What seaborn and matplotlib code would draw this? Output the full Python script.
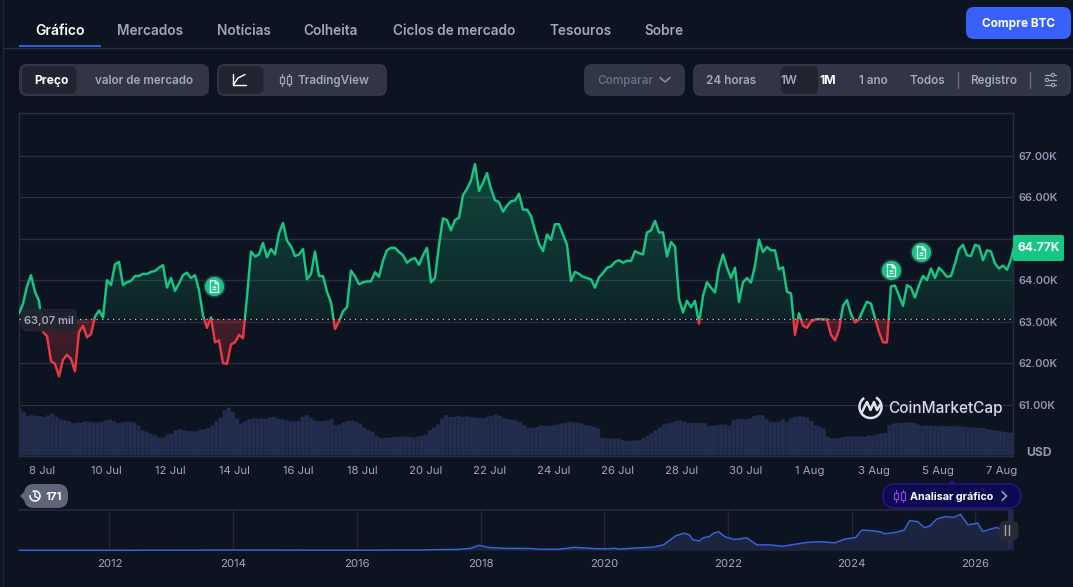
import numpy as np
import pandas as pd
import seaborn as sns
from matplotlib import pyplot as plt
from matplotlib.patches import FancyBboxPatch, Rectangle, Circle, Polygon, Arc
from matplotlib.path import Path

# price in thousands of USD, one reading every 3 hours
price_k = [
    63.20, 63.43, 63.85, 64.12, 63.72, 63.50, 62.75, 62.65, 62.05, 61.98, 61.68, 62.08, 62.20, 62.10, 61.80,
    62.75, 62.90, 62.62, 62.70, 63.12, 63.27, 63.10, 64.00, 63.88, 64.38, 64.44, 63.88, 63.95, 63.98, 64.10,
    64.10, 64.15, 64.15, 64.20, 64.22, 64.30, 64.36, 63.82, 64.05, 63.74, 63.92, 64.12, 64.18, 64.05, 64.12,
    63.76, 63.15, 62.85, 63.10, 62.50, 62.55, 62.00, 61.98, 62.45, 62.50, 62.68, 62.60, 63.60, 64.69,
    64.57, 64.62, 64.90, 64.55, 64.75, 64.62, 65.13, 65.38, 64.95, 64.82, 64.58, 64.62, 64.75, 64.02, 64.15,
    64.69, 64.10, 64.10, 63.72, 63.46, 62.82, 63.00, 63.25, 63.35, 64.23, 64.09, 63.90, 63.95, 63.97, 63.97,
    64.19, 64.08, 64.47, 64.72, 64.78, 64.78, 64.68, 64.60, 64.42, 64.50, 64.53, 64.37, 64.60, 64.78, 63.95,
    64.05, 64.85, 65.49, 65.45, 65.20, 65.45, 65.50, 66.05, 66.20, 66.40, 66.80, 66.15,
    66.35, 66.58, 66.20, 65.93, 65.88, 65.65, 65.80, 65.90, 65.92, 66.08, 65.70, 65.70, 65.55, 65.20, 64.88,
    64.70, 65.10, 64.97, 65.35, 65.35, 65.10, 64.85, 63.98, 64.20, 64.15, 64.08, 64.05, 64.02, 63.82, 64.07,
    64.17, 64.30, 64.33, 64.44, 64.48, 64.42, 64.47, 64.46, 64.70, 64.65, 64.62, 65.15, 65.20, 65.43, 65.15,
    65.15, 64.57, 64.92, 64.81, 63.55, 63.22, 63.50, 63.35, 63.50, 62.95, 63.62, 63.95,
    63.82, 63.70, 64.30, 64.62, 64.30, 64.05, 64.30, 63.47, 63.95, 64.05, 63.94, 64.35, 64.98, 64.68, 64.80,
    64.72, 64.72, 64.26, 64.31, 63.72, 63.68, 62.68, 63.20, 62.90, 62.85, 63.00, 63.05, 63.06, 63.05, 63.05,
    62.68, 62.55, 62.80, 63.38, 63.52, 63.18, 62.98, 63.05, 63.28, 63.48, 63.43, 63.09, 62.75, 62.50, 62.50,
    63.85, 63.87, 63.63, 63.38, 63.88, 63.82, 63.58, 63.88, 64.10, 64.00, 64.28, 64.05, 64.30, 64.20, 64.08,
    64.10, 64.40, 64.75, 64.85, 64.60, 64.58, 64.85, 64.82, 64.48, 64.72, 64.69, 64.40, 64.28, 64.35, 64.25,
    64.50, 64.90,
]

# volume (relative height), one bar every ~3 hours
volume = [
    47, 43.7, 39.7, 40.3, 39.7, 39.3, 38.7, 40.3, 41.7, 38.7, 36.3, 35.3, 34.3, 32.3, 33, 32.7, 34.3, 33.7, 33, 33,
    33.7, 35, 35.7, 34.3, 32.3, 33, 33.7, 33.7, 33, 29.7, 25.3, 23.7, 21.7, 20.3, 18, 18, 21, 21.7, 25.3, 26.3,
    25.3, 24.3, 24.3, 24.3, 26, 26.3, 27.7, 30.3, 34.3, 37.7, 45.3, 47.7, 43.7, 37, 32, 34.3, 36.3, 37, 37, 37,
    37, 38.3, 38.7, 37, 36.3, 35.3, 34.3, 34.3, 34.3, 38.7, 40.3, 37.7, 35, 34.3, 34.3, 35, 36.3, 30.3, 31.3, 33,
    34.7, 35, 33.7, 32, 27.7, 25.3, 23.7, 19.7, 17.7, 17.7, 18, 18.3, 18.7, 18.7, 19, 18.7, 18, 19, 19.7, 21,
    25.3, 28, 31.3, 37, 40.3, 38.7, 38.7, 39.7, 38.7, 39.3, 38.3, 38, 37.3, 37.3, 38.7, 39.7, 41, 39.7, 37.7, 36.3,
    35.7, 35.3, 33.7, 30.3, 27.7, 27.7, 28.5,
    30.3, 29.7, 29.7, 30.3, 31, 32, 32.3, 33.7, 33, 32.7, 32, 30.3, 29.7, 28.7, 27, 17.7, 17, 17, 16.7, 17,
    15.3, 14.7, 14.7, 15, 15.3, 17.7, 19.7, 22, 25.3, 28, 31, 32, 33, 34.7, 35, 34, 32.3, 32.7, 32.3, 32.7,
    32.3, 29.7, 29.7, 30.3, 31, 31, 29.7, 35.3, 36.3, 36.3, 36.3, 37, 39.3, 40.3, 40.3, 36.3, 33.7, 33.3, 33.7, 36.3,
    33.7, 37, 38.7, 39.3, 39, 38, 34.3, 30.3, 28.7, 27, 18.7, 17, 17, 17.7, 18.7, 19, 19, 19, 19.3, 18.7,
    20, 19.7, 21, 22, 22.7, 30.3, 32, 32.3, 32.7, 33.3, 33, 32.7, 31, 29.7, 30, 29.7, 29.7, 29.3, 29.7, 29.3,
    29.3, 29.7, 29.3, 28.7, 28.3, 28, 28, 27.7, 27.7, 26.3, 25.7, 25, 24.3, 23.7, 23, 22.7,
]

day_ticks = [0, 2, 4, 6, 8, 10, 12, 14, 16, 18, 20, 22, 24, 26, 28, 30]
day_labels = ['8 Jul', '10 Jul', '12 Jul', '14 Jul', '16 Jul', '18 Jul', '20 Jul', '22 Jul', '24 Jul', '26 Jul',
              '28 Jul', '30 Jul', '1 Aug', '3 Aug', '5 Aug', '7 Aug']
price_ticks = [61, 62, 63, 64, 65, 66, 67]
base_price = 63.07

note_days = [5.36, 26.53, 27.47]
note_prices = [63.86, 64.24, 64.68]

# history strip, whole life of the coin
hist_years = [2010.54, 2012, 2014, 2016, 2017, 2017.4, 2017.63, 2017.85, 2017.97, 2018.15, 2018.38, 2018.8, 2018.96,
              2019.24, 2019.4, 2019.51, 2019.68, 2019.84, 2020, 2020.17, 2020.25, 2020.5, 2020.77, 2020.85, 2020.96,
              2021.07, 2021.16, 2021.29, 2021.38, 2021.43, 2021.54, 2021.6, 2021.7, 2021.77, 2021.85, 2021.95,
              2022.09, 2022.2, 2022.3, 2022.47, 2022.69, 2022.88, 2023.05, 2023.29, 2023.51, 2023.73, 2023.9,
              2024.06, 2024.17, 2024.36, 2024.45, 2024.55, 2024.72, 2024.85, 2024.94, 2025.07, 2025.18, 2025.27,
              2025.38, 2025.52, 2025.65, 2025.76, 2025.88, 2026.04, 2026.12, 2026.2, 2026.34, 2026.38, 2026.53]
hist_price = [0, 0.01, 0.8, 0.43, 1, 2.5, 3, 7, 17.5, 9.5, 7, 6.3, 3.5,
              3.5, 7, 10.5, 8, 6, 5, 7, 4, 8, 10.5, 14, 19,
              37, 51, 60, 54, 37, 33, 44, 48, 60, 65, 48,
              38, 40, 44, 19, 19, 14, 20, 28, 30, 26, 40,
              44, 71, 68, 65, 58, 63, 71, 104, 100, 79, 86,
              110, 118, 115, 126, 89, 95, 65, 71, 80, 77, 65]
year_ticks = [2012, 2014, 2016, 2018, 2020, 2022, 2024, 2026]

bg = '#0d1421'
grid = '#2a2e3b'
green = '#16c784'
red = '#ea3943'
grey = '#a1a7bb'
pill_col = '#323546'
inner_col = '#222531'

sns.set_theme(style='dark', rc={'figure.facecolor': bg, 'axes.facecolor': bg, 'savefig.facecolor': bg})
plt.rcParams['font.family'] = ['Inter', 'DejaVu Sans']

W, H = 1073, 587
fig = plt.figure(figsize=(W / 100, H / 100), dpi=100)


def px_axes(x0, y0, x1, y1, **kw):
    return fig.add_axes([x0 / W, 1 - y1 / H, (x1 - x0) / W, (y1 - y0) / H], **kw)


# main price chart
ax = px_axes(19, 113, 1013, 456)
xlim = (-0.719, 30.344)
ylim = (59.76, 68.03)
price_days = xlim[0] + 0.125 * np.arange(len(price_k))
df = pd.DataFrame({'day': price_days, 'price': price_k})

# gradient under the line, cut to the shape between line and base price
levels = np.linspace(ylim[1], ylim[0], 300)
grad = np.zeros((300, 2, 4))
for i, lv in enumerate(levels):
    if lv >= base_price:
        col, a = (22, 199, 132), 0.09 + 0.2 * (lv - base_price) / 3.8
    else:
        col, a = (234, 57, 67), 0.27 - 0.12 * (base_price - lv) / 1.4
    grad[i, :, :3] = np.array(col) / 255
    grad[i, :, 3] = a
im = ax.imshow(grad, extent=(xlim[0], xlim[1], ylim[0], ylim[1]), aspect='auto', zorder=1)
shape = ax.fill_between(price_days, price_k, base_price, color='none')
im.set_clip_path(shape.get_paths()[0], transform=ax.transData)

sns.lineplot(data=df, x='day', y='price', color=green, lw=1.75, estimator=None, ax=ax, zorder=3)
ax.lines[-1].set_clip_path(Rectangle((xlim[0], base_price), 40, 20, transform=ax.transData))
sns.lineplot(data=df, x='day', y='price', color=red, lw=1.75, estimator=None, ax=ax, zorder=3)
ax.lines[-1].set_clip_path(Rectangle((xlim[0], base_price - 20), 40, 20, transform=ax.transData))
ax.axhline(base_price, color='#c8cdd8', lw=0.9, ls=(0, (1, 3.4)), zorder=4)

ax.set_xlim(xlim)
ax.set_ylim(ylim)
ax.set_xlabel('')
ax.set_ylabel('')
ax.set_yticks(price_ticks)
ax.set_yticklabels(['{:.2f}K'.format(p) for p in price_ticks], color='#8f98b0', fontsize=7.9, fontweight='semibold')
ax.yaxis.tick_right()
ax.set_xticks(day_ticks)
ax.set_xticklabels(day_labels, color='#a1a7bb', fontsize=8.2)
ax.tick_params(axis='both', length=0)
ax.tick_params(axis='x', pad=7.5)
ax.tick_params(axis='y', pad=3.8)
ax.grid(axis='y', color=grid, lw=1)
ax.set_axisbelow(True)
for s in ax.spines.values():
    s.set_color(grid)
    s.set_linewidth(1)

# volume shares the bottom of the same box
ax_vol = px_axes(19, 113, 1013, 455.5, facecolor='none')
vol_days = np.linspace(-0.70, 30.33, len(volume))
sns.barplot(x=vol_days, y=volume, native_scale=True, color='#222c4d', saturation=1, width=1, linewidth=0, ax=ax_vol)
for bar in ax_vol.patches:
    bar.set_snap(False)
ax_vol.set_xlim(xlim)
ax_vol.set_ylim(0, 342.5)
ax_vol.axis('off')

# news markers
notes = pd.DataFrame({'day': note_days, 'price': note_prices})
sns.scatterplot(data=notes, x='day', y='price', s=225, color=green, edgecolor='#2b3640', linewidth=1.2, ax=ax, zorder=6)
doc_verts = [(-.34, -.5), (.34, -.5), (.34, .24), (.08, .5), (-.34, .5), (-.34, -.5),
             (.06, .5), (.06, .22), (.34, .22),
             (-.16, -.05), (.16, -.05), (-.16, -.25), (.16, -.25)]
doc_codes = [1, 2, 2, 2, 2, 2, 1, 2, 2, 1, 2, 1, 2]
ax.plot(note_days, note_prices, ls='', marker=Path(doc_verts, doc_codes), ms=8.5, mfc='none', mec='white', mew=0.9, zorder=7)
ax.set_xlabel('')
ax.set_ylabel('')

# history strip
ax_hist = px_axes(19, 510, 1013, 550.3)
hist = pd.DataFrame({'year': hist_years, 'price': hist_price})
ax_hist.fill_between(hist_years, hist_price, 0, color='#1d2440', lw=0)
sns.lineplot(data=hist, x='year', y='price', color='#3861d8', lw=1.1, estimator=None, ax=ax_hist)
ax_hist.lines[-1].set_clip_on(False)
ax_hist.axvspan(2026.53, 2026.61, color='#232c50', lw=0)
ax_hist.set_xlim(2010.537, 2026.61)
ax_hist.set_ylim(0, 141)
ax_hist.set_xlabel('')
ax_hist.set_ylabel('')
ax_hist.set_yticks([])
ax_hist.set_xticks(year_ticks)
ax_hist.set_xticklabels(year_ticks, color='#a1a7bb', fontsize=8.2)
ax_hist.tick_params(axis='x', length=0, pad=6)
ax_hist.grid(axis='x', color='#23273a', lw=1)
ax_hist.set_axisbelow(True)
for side, s in ax_hist.spines.items():
    s.set_color('#23273a')
    s.set_visible(side in ('top', 'right'))

# page furniture, drawn in pixel coordinates on top
ui = fig.add_axes([0, 0, 1, 1], facecolor='none', zorder=10)
ui.set_xlim(0, W)
ui.set_ylim(H, 0)
ui.axis('off')


def pill(x0, y0, x1, y1, color, r=8, **kw):
    ui.add_patch(FancyBboxPatch((x0, y0), x1 - x0, y1 - y0, boxstyle='round,pad=0,rounding_size={}'.format(r),
                                fc=color, ec=kw.pop('ec', 'none'), lw=kw.pop('lw', 0), **kw))


def label(x, y, s, color=grey, size=8.45, weight='semibold', ha='center'):
    ui.text(x, y + 0.7, s, color=color, fontsize=size, fontweight=weight, ha=ha, va='center')


def candles(x, y, color):
    for dx, h in ((-3.5, 3), (3.5, 4)):
        ui.plot([x + dx, x + dx], [y - 6, y + 6], color=color, lw=0.9)
        ui.add_patch(Rectangle((x + dx - 2, y - h), 4, 2 * h, fc=bg if color != grey else pill_col, ec=color, lw=0.9, zorder=3))


ui.plot([2.5, 2.5], [0, H], color='#20242f', lw=1)
ui.plot([2.5, W], [47.5, 47.5], color=grid, lw=1)
ui.add_patch(Rectangle((19, 45), 82, 2, fc='#2f5ad8', lw=0))
label(60, 30, 'Gráfico', color='white', size=10)
for x, s in ((150, 'Mercados'), (243.5, 'Notícias'), (331, 'Colheita'), (454, 'Ciclos de mercado'),
             (580.5, 'Tesouros'), (664, 'Sobre')):
    label(x, 30, s, color='#a1a7bb', size=9.8)
pill(966, 7, 1071, 39, '#3861fb')
label(1018.5, 23, 'Compre BTC', color='white', size=8.5, weight='bold')

pill(19, 64, 209, 96, pill_col)
pill(22, 66, 76.5, 94, inner_col, r=6)
label(51, 80, 'Preço', color='white', weight='bold', size=8.7)
label(144.5, 80, 'valor de mercado')
pill(217, 64, 387, 96, pill_col)
pill(219, 66, 263.5, 94, inner_col, r=6)
ui.plot([233, 233, 246], [74, 85, 85], color='white', lw=1)
ui.plot([234, 238, 245], [84, 78, 74.5], color='white', lw=1)
candles(285, 80, grey)
label(333.5, 80, 'TradingView')
pill(584, 64, 685, 96, pill_col)
label(625, 80, 'Comparar', color='#616e85')
ui.plot([660, 665, 670], [77.5, 82, 77.5], color='#8a91a5', lw=1.1)
pill(693, 64, 1071, 96, pill_col)
pill(780.5, 66, 818, 94, inner_col, r=6)
for x, s in ((731, '24 horas'), (788.5, '1W'), (873, '1 ano'), (927.5, 'Todos'), (993.5, 'Registro')):
    label(x, 80, s)
label(827.5, 80, '1M', color='white', weight='bold', size=8.8)
for x in (957.7, 1030):
    ui.plot([x, x], [72, 88], color='#616e85', lw=1)
for y, cx in ((75, 1053), (80, 1047), (85, 1053)):
    ui.plot([1045, 1056], [y, y], color=grey, lw=0.9)
    ui.add_patch(Circle((cx, y), 1.6, fc=pill_col, ec=grey, lw=0.8, zorder=3))

# chart labels
pill(21, 309, 77, 331.5, '#222531', r=6, alpha=0.93)
label(49, 320, '63,07 mil', color='#a1a7bb', size=8)
pill(1013, 235, 1064, 261, green, r=2)
label(1039, 247.5, '64.77K', color='white', weight='bold', size=8.6)
label(1039, 452, 'USD', color='#8f98b0', weight='bold', size=8.8)

# watermark
ui.add_patch(Arc((870.5, 407), 22, 22, theta1=-60, theta2=235, ec='#dfe4ee', lw=1.8))
ui.plot([862, 867, 870.5, 874, 877, 880], [412, 402, 410, 402, 410, 405], color='#dfe4ee', lw=1.8)
label(945, 407.5, 'CoinMarketCap', color='#d5dae6', size=11, weight='medium')

# badges under the volume
ui.add_patch(Polygon([(20, 496), (26, 490), (26, 502)], fc='#5f6579', lw=0))
pill(24, 484, 68, 508, '#5f6579', r=10)
ui.add_patch(Arc((35, 496), 10, 10, theta1=-120, theta2=190, ec='white', lw=1.1))
ui.plot([35, 35, 38], [492.5, 496.5, 498], color='white', lw=1)
label(53.5, 496, '171', color='white', weight='bold', size=8.2)

ui.add_patch(Polygon([(948, 484), (952, 480.5), (956, 484)], fc='#2e1a8c', lw=0))
pill(883, 484, 1020.5, 508, '#0b0b50', r=12, ec='#35108f', lw=1)
candles(899, 496, '#8a3ffc')
label(910, 496, 'Analisar gráfico', color='white', weight='bold', size=7.7, ha='left')
ui.plot([1002, 1006.5, 1002], [491.5, 496, 500.5], color='#a1a7bb', lw=1.1)

# handle at the end of the strip
pill(999.5, 521, 1018.5, 540, '#272a35', r=6)
for x in (1005.3, 1009):
    ui.plot([x, x], [525, 535], color='#a1a7bb', lw=1)

fig.savefig('out.png', dpi=100)
